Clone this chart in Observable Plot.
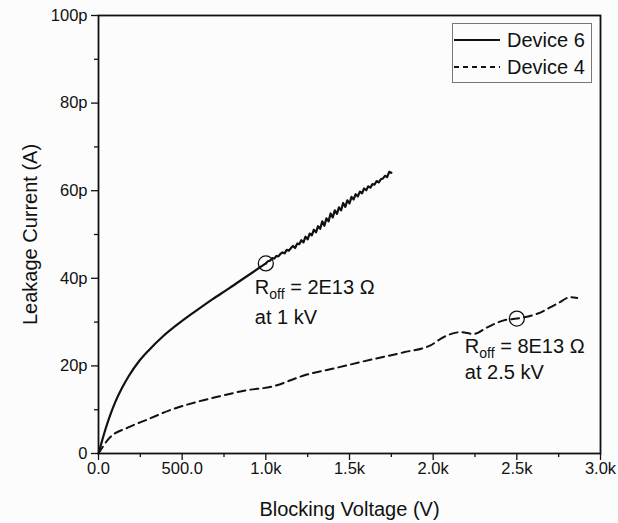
<!DOCTYPE html>
<html><head><meta charset="utf-8">
<script src="https://cdn.jsdelivr.net/npm/d3@7"></script>
<script src="https://cdn.jsdelivr.net/npm/@observablehq/plot@0.6"></script>
<style>
body{margin:0;background:#fcfcfc;}
#wrap{position:relative;width:618px;height:523px;font-family:"Liberation Sans",Arial,sans-serif;}
#legend{position:absolute;left:452px;top:23px;}
</style></head><body><div id="wrap"></div>
<script>
// ---- data (voltage in V, current in pA) ----
const device6V = [0,22,42,72,102,141,181,241,301,381,480,580,680,780,880,1000,1012,1025,1038,1050,1063,1075,1088,1100,1112,1125,1137,1150,1162,1175,1187,1200,1212,1225,1237,1250,1262,1275,1287,1300,1312,1325,1337,1350,1362,1375,1387,1400,1412,1425,1437,1450,1462,1475,1487,1500,1512,1525,1537,1550,1562,1575,1587,1600,1612,1625,1637,1650,1662,1675,1687,1700,1712,1725,1737,1750];
const device6I = [0,3.0,5.6,9.0,11.9,15.0,17.7,21.0,23.6,26.6,29.7,32.5,35.2,37.7,40.3,43.4,43.9,44.0,44.6,44.5,45.1,45.0,45.6,45.9,45.7,46.5,46.3,46.9,47.4,46.9,47.9,47.8,48.7,48.2,49.5,48.9,50.2,49.8,51.1,50.5,51.9,51.3,53.0,52.0,53.7,53.0,54.8,53.9,55.5,54.7,56.2,55.5,57.2,56.3,57.8,57.1,58.6,58.0,59.2,58.7,59.8,59.4,60.5,60.1,61.0,60.7,61.5,61.4,62.2,61.9,62.6,62.8,63.4,63.1,64.3,64.1];
const device4V = [0,62,181,301,420,580,739,878,1040,1227,1427,1625,1825,1984,2064,2163,2243,2323,2422,2502,2622,2741,2821,2861];
const device4I = [0,3.4,6.0,7.9,9.8,11.7,13.2,14.4,15.3,17.8,19.6,21.4,23.1,24.7,26.6,27.7,27.3,28.8,30.4,30.8,31.9,34.2,35.7,35.5];
const seriesNames = ["Device 6","Device 4"];
const xTicks = [0,500,1000,1500,2000,2500,3000];
const xTickLabels = ["0.0","500.0","1.0k","1.5k","2.0k","2.5k","3.0k"];
const xMinor = [250,750,1250,1750,2250,2750];
const yTicks = [0,20,40,60,80,100];
const yTickLabels = ["0","20p","40p","60p","80p","100p"];
const yMinor = [10,30,50,70,90];
const xTitle = "Blocking Voltage (V)";
const yTitle = "Leakage Current (A)";
const annoV = [1000,2500];
const annoI = [43.4,30.8];
const annoR = ["2E13","8E13"];
const annoAt = ["at 1 kV","at 2.5 kV"];

// ---- layout ----
const annoDx = [-11,-52];
const annoDy1 = [31,34];
const annoDy2 = [61,60];
const smoothEnd = 15; // index where the noisy part of Device 6 begins
const ink = "#111";

const d6 = device6V.map((v,i)=>({v, a:device6I[i]}));
const d6smooth = d6.slice(0, smoothEnd+1);
const d6noisy = d6.slice(smoothEnd);
const d4 = device4V.map((v,i)=>({v, a:device4I[i]}));

const annoMarks = [];
annoV.forEach((v,i)=>{
  annoMarks.push(Plot.text([i],{x:j=>annoV[j],y:j=>annoI[j],text:j=>"ROFFMARK"+j,textAnchor:"start",lineAnchor:"bottom",dx:annoDx[i],dy:annoDy1[i],fontSize:20,fill:ink}));
  annoMarks.push(Plot.text([i],{x:j=>annoV[j],y:j=>annoI[j],text:j=>annoAt[j],textAnchor:"start",lineAnchor:"bottom",dx:annoDx[i],dy:annoDy2[i],fontSize:20,fill:ink}));
});

const chart = Plot.plot({
  width:618, height:523,
  marginLeft:98, marginRight:18, marginTop:15, marginBottom:70,
  style:{background:"transparent", fontFamily:"'Liberation Sans', Arial, sans-serif", fontSize:"16.5px", color:ink},
  x:{domain:[0,3000]},
  y:{domain:[0,100]},
  marks:[
    Plot.axisX({ticks:xMinor, tickSize:4, text:null, label:null, stroke:ink, strokeWidth:1.3}),
    Plot.axisX({ticks:xTicks, tickSize:7, tickPadding:2, tickFormat:d=>xTickLabels[xTicks.indexOf(d)], label:null, stroke:ink, strokeWidth:1.3, fontSize:16.5}),
    Plot.axisY({ticks:yMinor, tickSize:4, text:null, label:null, stroke:ink, strokeWidth:1.3}),
    Plot.axisY({ticks:yTicks, tickSize:7, tickPadding:4, tickFormat:d=>yTickLabels[yTicks.indexOf(d)], label:null, stroke:ink, strokeWidth:1.3, fontSize:16.5}),
    Plot.line(d4,{x:"v",y:"a",stroke:ink,strokeWidth:2,strokeDasharray:"8,5",curve:"monotone-x"}),
    Plot.line(d6smooth,{x:"v",y:"a",stroke:ink,strokeWidth:2.2,curve:"monotone-x"}),
    Plot.line(d6noisy,{x:"v",y:"a",stroke:ink,strokeWidth:2.2}),
    Plot.dot([0,1],{x:j=>annoV[j],y:j=>annoI[j],r:7.5,stroke:ink,strokeWidth:1.3,fill:"none"}),
    ...annoMarks,
    Plot.text([xTitle],{frameAnchor:"bottom",dy:62,lineAnchor:"bottom",textAnchor:"middle",fontSize:20,fill:ink}),
    Plot.text([yTitle],{frameAnchor:"left",dx:-68,rotate:-90,lineAnchor:"middle",textAnchor:"middle",fontSize:20,fill:ink}),
    Plot.frame({stroke:ink,strokeWidth:1.8})
  ]
});

// subscript formatting for R_off labels
d3.select(chart).selectAll("text").each(function(){
  const m = /^ROFFMARK(\d)$/.exec(this.textContent);
  if(!m) return;
  const i = +m[1];
  const t = d3.select(this); t.text(null);
  t.append("tspan").text("R");
  t.append("tspan").attr("dy",5).attr("font-size",14).text("off");
  t.append("tspan").attr("dy",-5).text(" = " + annoR[i] + " \u03A9");
});

const wrap = document.getElementById("wrap");
wrap.appendChild(chart);

// legend
const dashes = [null,"5,4"];
const lg = d3.select(wrap).append("div").attr("id","legend")
  .append("svg").attr("width",140).attr("height",60);
lg.append("rect").attr("x",0.5).attr("y",0.5).attr("width",139).attr("height",59)
  .attr("fill","none").attr("stroke","#777").attr("stroke-width",1);
seriesNames.forEach((name,i)=>{
  const yy = 17 + i*27;
  lg.append("line").attr("x1",2).attr("x2",48).attr("y1",yy).attr("y2",yy)
    .attr("stroke",ink).attr("stroke-width",1.8).attr("stroke-dasharray",dashes[i]);
  lg.append("text").attr("x",55).attr("y",yy+7).attr("font-size",20)
    .attr("font-family","'Liberation Sans', Arial, sans-serif").attr("fill",ink).text(name);
});
</script></body></html>
